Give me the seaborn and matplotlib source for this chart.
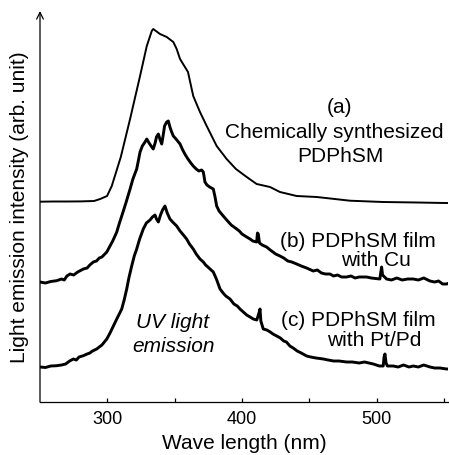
import matplotlib
matplotlib.use("Agg")
import matplotlib.pyplot as plt
import seaborn as sns
import pandas as pd

# ---- data (wavelength nm, intensity arb. units incl. vertical offset) ----
wl_a = [250, 260, 270, 280, 290.1, 294.7, 299.8, 303.3, 310, 316.9, 324.3, 329.3, 333, 334.1,
        339.1, 344.1, 349, 351.5, 354, 359.9, 363.8, 368.8, 373.8, 381.2, 388.6, 395.5, 398.5,
        403.5, 410.9, 420.8, 428.2, 440.6, 455.5, 480.2, 504.7, 530, 550.7, 553.7]
int_a = [199.3, 199.5, 199.5, 199.6, 200, 202, 205, 215, 244, 282, 325, 355, 370, 372,
         367, 364, 359, 352, 342, 329, 305, 289, 275, 255, 242, 232, 229,
         224, 217, 214, 209, 205, 204, 200.3, 199, 198.5, 198, 198]

wl_b = [250, 254, 258, 262.4, 266, 268, 270, 272.3, 275, 278, 282.2, 285, 287, 289.6, 292, 294,
        296, 299.6, 302, 304, 307, 309, 311.9, 314, 316.9, 319, 321.8, 323, 324.3, 326, 328,
        329.3, 331, 332.5, 334.1, 335.5, 336.5, 337.9, 339, 340.4, 341.5, 342.5, 344.1, 345.3,
        346.5, 347.5, 349, 351, 354, 356, 358, 359.9, 362, 363.8, 366, 368, 370, 371.3, 372.5,
        374, 376, 378.7, 380, 381.2, 383, 386.1, 388, 390, 392, 396.1, 398, 400, 403.5, 406,
        408, 410.9, 411.5, 412.1, 413, 415, 418.3, 421, 423, 425, 428.2, 431, 434, 437, 440.6,
        444, 448, 452.9, 456, 459, 462, 465.3, 468, 471, 474, 477.7, 481, 484, 487, 492.6, 496,
        502.4, 503, 503.7, 504.4, 507.4, 511, 515, 519, 523, 527.2, 531, 535, 539.6, 543, 546,
        549, 552, 553.7]
int_b = [119, 118, 119.5, 120.3, 122, 121, 125, 127, 126, 129, 132, 133, 136, 139, 140, 143,
         144, 149, 155, 160, 169, 178, 190, 199, 212, 222, 232, 240, 249, 255, 259,
         262, 258, 255, 252, 258, 264, 267, 262, 257, 266, 275, 279, 280,
         274, 270, 265, 262, 257, 251, 246, 242, 238, 235, 232, 230, 231, 229, 219,
         216, 214, 212, 204, 195, 190, 185, 182, 179, 176, 172, 170, 167, 164, 162,
         160, 159, 168, 167, 158, 156, 154, 151, 149, 147, 145, 143, 140, 139, 137,
         135, 133, 130, 131, 128, 127, 127, 125, 126, 124, 124, 125, 123, 124, 124, 123,
         122, 128, 134, 126, 122, 121, 123, 121, 122, 122, 121, 123, 120, 119, 120,
         117, 117, 118]

wl_c = [250, 254, 258, 262.4, 266, 269, 272, 274.8, 277, 279, 282.2, 285, 287, 289, 292.1, 294,
        296, 299.6, 302, 304.5, 307, 310.7, 312.5, 314.4, 316, 318.1, 320, 321.8, 324, 326.7,
        329, 331.7, 333.5, 335.4, 336.5, 337.9, 339.5, 341, 342.8, 344.5, 346.5, 348.5, 351.5,
        354, 356.5, 358.9, 361, 363.8, 366, 368.8, 371.3, 373, 375.5, 378.7, 381, 383.7, 386,
        388, 391.1, 394, 396.5, 398.5, 401, 403.5, 406, 408.4, 411, 412.6, 413.4, 414, 415.8,
        418.5, 421, 423, 425.8, 428.5, 431, 433, 435.6, 438, 441, 444, 448, 451, 455, 460.4,
        464, 468, 472, 477.7, 482, 487, 491, 497.5, 502, 504.9, 505.5, 506.2, 507, 508, 512.3,
        516, 520, 524, 527.2, 531, 535, 539.6, 543, 547, 552, 553.7]
int_c = [34, 33.5, 35, 35.3, 36, 37, 40, 42, 41, 44, 45.3, 47, 48, 50, 52, 54,
         56, 62, 68, 75, 82, 92, 101, 112, 123, 135, 145, 152, 162, 172,
         178, 181, 184, 186, 182, 179, 186, 191, 195, 188, 182, 179, 175,
         170, 166, 162, 157, 152, 147, 142, 139, 136, 133, 129, 122, 112, 108,
         105, 102, 97, 95, 92, 89, 86, 84, 82, 81, 88, 92, 80, 72,
         71, 69, 67, 65, 63, 60, 59, 55, 53, 50, 48, 45, 44, 43, 42,
         41, 40, 40, 39, 39, 38, 39, 37, 35, 35, 44, 47, 38, 35, 35,
         34, 36, 34, 35, 34, 36, 34, 33, 33, 32, 32]

x_ticks = [300, 400, 500]
x_minor = [350, 450, 550]

df = pd.concat([
    pd.DataFrame({"wl": wl_a, "I": int_a, "s": "a"}),
    pd.DataFrame({"wl": wl_b, "I": int_b, "s": "b"}),
    pd.DataFrame({"wl": wl_c, "I": int_c, "s": "c"}),
])

sns.set_theme(style="white")
plt.rcParams["font.family"] = ["Liberation Sans", "DejaVu Sans"]

fig = plt.figure(figsize=(4.49, 4.56), dpi=100)
ax = fig.add_axes([40 / 449, 53 / 456, 408 / 449, 391 / 456])

for s, lw in [("a", 1.4), ("b", 2.1), ("c", 2.1)]:
    sns.lineplot(data=df[df["s"] == s], x="wl", y="I", ax=ax, color="black", lw=lw,
                 sort=False, estimator=None, legend=False)

ax.set_xlim(250, 553)
ax.set_ylim(-1, 390)
for sp in ["top", "right", "left"]:
    ax.spines[sp].set_visible(False)
ax.spines["bottom"].set_color("black")
ax.spines["bottom"].set_linewidth(0.9)
ax.annotate("", xy=(0, 1.0), xytext=(0, 0), xycoords="axes fraction",
            arrowprops=dict(arrowstyle="->", lw=0.9, color="black",
                            shrinkA=0, shrinkB=0, mutation_scale=12))

ax.set_xticks(x_ticks)
ax.set_xticks(x_minor, minor=True)
ax.set_xticklabels([str(t) for t in x_ticks], fontsize=13, color="black")
ax.tick_params(axis="x", which="both", direction="in", length=3, width=0.9,
               color="black", bottom=True, pad=6)
ax.set_yticks([])

ax.set_xlabel("Wave length (nm)", fontsize=15, color="black", labelpad=4)
ax.set_ylabel("Light emission intensity (arb. unit)", fontsize=15, color="black", labelpad=8)

def txt(xp, yp, s, **kw):
    fig.text(xp / 449, 1 - yp / 456, s, ha="center", va="center", fontsize=15,
             color="black", **kw)

txt(340, 108, "(a)")
txt(334, 132, "Chemically synthesized")
txt(340, 157, "PDPhSM")
txt(358, 242, "(b) PDPhSM film")
txt(376, 261, "with Cu")
txt(358, 321, "(c) PDPhSM film")
txt(374, 341, "with Pt/Pd")
txt(173, 323, "UV light", style="italic")
txt(174, 346, "emission", style="italic")

fig.savefig("out.png", dpi=100)
